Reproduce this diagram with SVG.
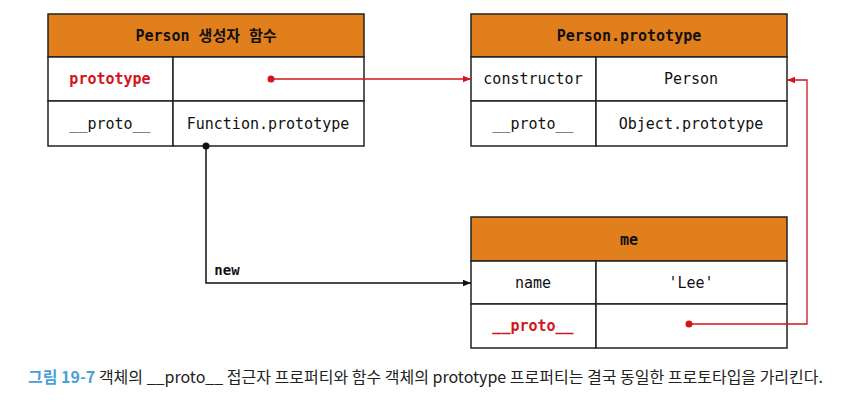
<svg xmlns="http://www.w3.org/2000/svg" width="845" height="402" viewBox="0 0 845 402">
<style>
.hdr{fill:#e17f1c;stroke:#222;stroke-width:1.5}
.cell{fill:#fff;stroke:#222;stroke-width:1.5}
.t{font-family:"DejaVu Sans Mono","Liberation Mono",monospace;font-size:15px;fill:#111;text-anchor:middle;dominant-baseline:central}
.b{font-weight:bold}
.ko{font-family:"DejaVu Sans Mono","Noto Sans CJK KR",monospace}
.red{fill:#d0161c}
.cap{font-family:"Noto Sans CJK KR","Noto Sans",sans-serif;font-size:16px;fill:#222}
</style>
<defs>
<marker id="ab" viewBox="0 0 10 10" refX="10" refY="5" markerWidth="8" markerHeight="8" orient="auto" markerUnits="userSpaceOnUse"><path d="M0,1 L10,5 L0,9 Z" fill="#111"/></marker>
<marker id="ar" viewBox="0 0 10 10" refX="10" refY="5" markerWidth="8" markerHeight="8" orient="auto" markerUnits="userSpaceOnUse"><path d="M0,1 L10,5 L0,9 Z" fill="#d0161c"/></marker>
</defs>
<g id="person">
<rect class="hdr" x="48" y="14" width="316" height="43"/>
<rect class="cell" x="48" y="57" width="125" height="44"/>
<rect class="cell" x="173" y="57" width="191" height="44"/>
<rect class="cell" x="48" y="101" width="125" height="45"/>
<rect class="cell" x="173" y="101" width="191" height="45"/>
<text class="t b ko" x="206" y="36">Person 생성자 함수</text>
<text class="t b red" x="110" y="79">prototype</text>
<text class="t" x="110" y="124">__proto__</text>
<text class="t" x="268" y="124">Function.prototype</text>
</g>
<g id="person-prototype">
<rect class="hdr" x="471" y="14" width="316" height="43"/>
<rect class="cell" x="471" y="57" width="125" height="44"/>
<rect class="cell" x="596" y="57" width="191" height="44"/>
<rect class="cell" x="471" y="101" width="125" height="45"/>
<rect class="cell" x="596" y="101" width="191" height="45"/>
<text class="t b" x="629" y="36">Person.prototype</text>
<text class="t" x="533" y="79">constructor</text>
<text class="t" x="691" y="79">Person</text>
<text class="t" x="533" y="124">__proto__</text>
<text class="t" x="691" y="124">Object.prototype</text>
</g>
<g id="me">
<rect class="hdr" x="471" y="217" width="316" height="44"/>
<rect class="cell" x="471" y="261" width="125" height="43"/>
<rect class="cell" x="596" y="261" width="191" height="43"/>
<rect class="cell" x="471" y="304" width="125" height="44"/>
<rect class="cell" x="596" y="304" width="191" height="44"/>
<text class="t b" x="629" y="240">me</text>
<text class="t" x="533" y="283">name</text>
<text class="t" x="691" y="283">'Lee'</text>
<text class="t b red" x="533" y="326">__proto__</text>
</g>
<g id="connectors">
<circle cx="271" cy="79" r="3.5" fill="#d0161c"/>
<line x1="271" y1="79" x2="471" y2="79" stroke="#d0161c" stroke-width="1.3" marker-end="url(#ar)"/>
<circle cx="689" cy="324" r="3.5" fill="#d0161c"/>
<polyline points="689,324 807,324 807,80 787,80" fill="none" stroke="#d0161c" stroke-width="1.3" marker-end="url(#ar)"/>
<circle cx="206" cy="146" r="3.5" fill="#111"/>
<polyline points="206,146 206,283 471,283" fill="none" stroke="#111" stroke-width="1.5" marker-end="url(#ab)"/>
<text class="t b" x="227" y="270" style="font-size:14px">new</text>
</g>
<text class="cap" x="28" y="383"><tspan fill="#4a9fd8" font-weight="bold">그림 19-7</tspan> 객체의 __proto__ 접근자 프로퍼티와 함수 객체의 prototype 프로퍼티는 결국 동일한 프로토타입을 가리킨다.</text>
</svg>
